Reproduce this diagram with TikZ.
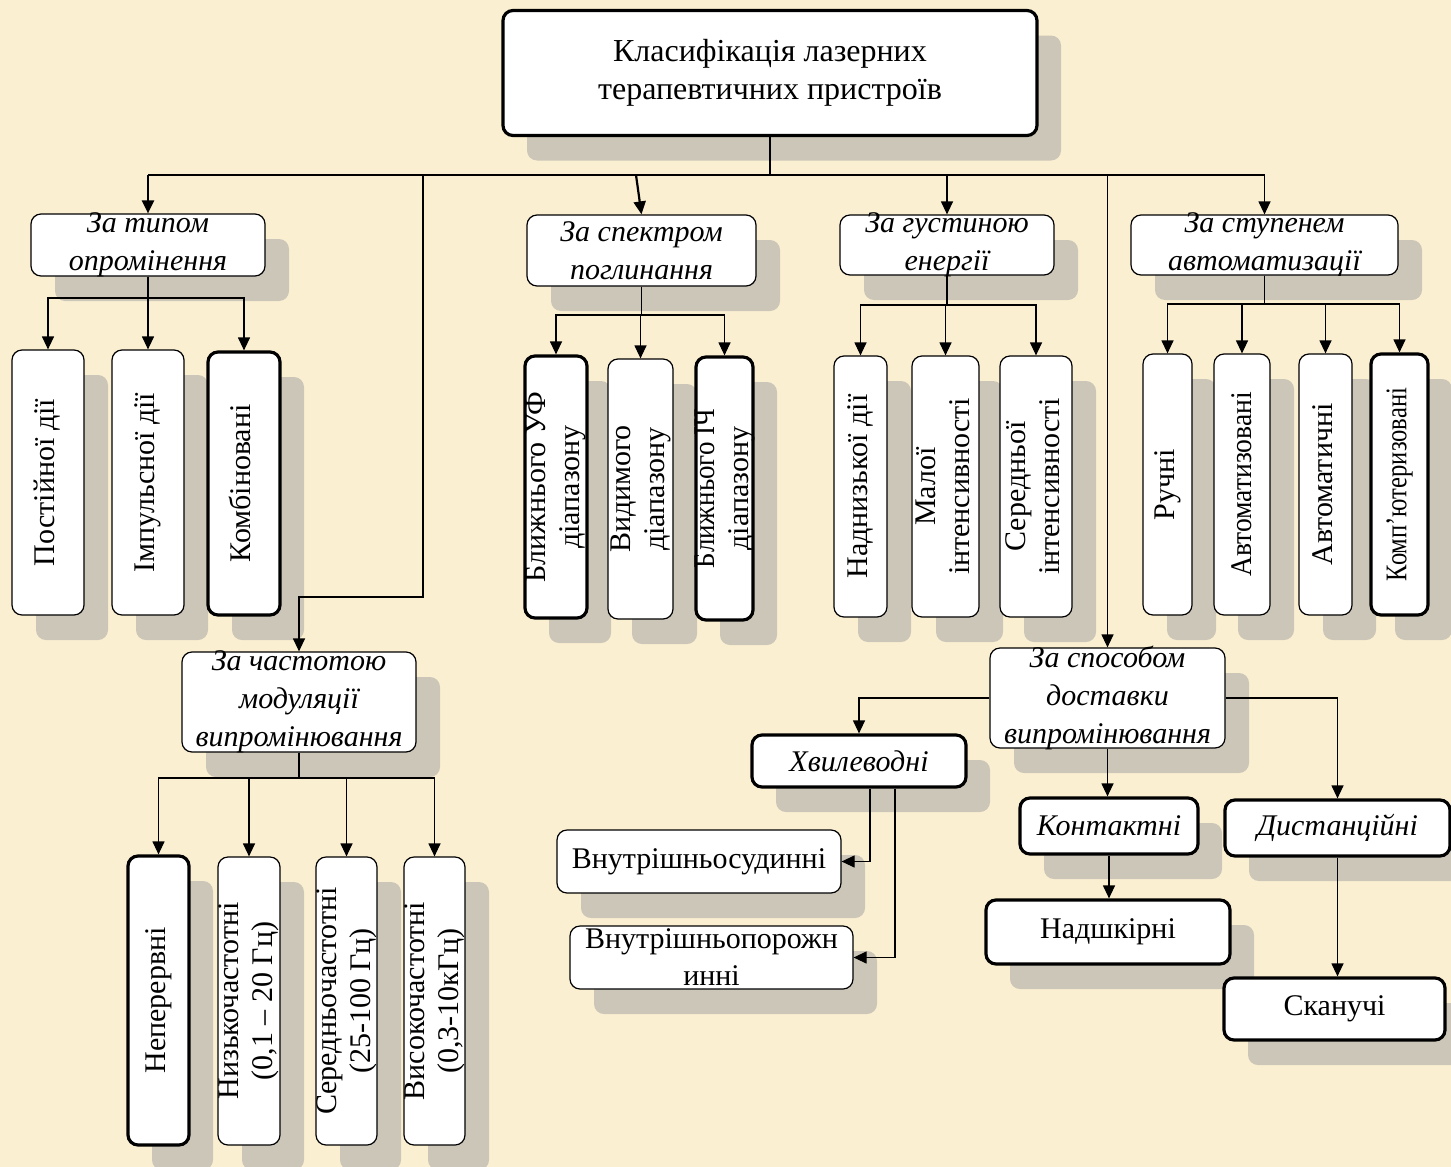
\documentclass[tikz,border=0pt]{standalone}
\usepackage{fontspec}
\setmainfont{Liberation Serif}
\usepackage{graphicx}
\usetikzlibrary{arrows.meta,shadows}
\definecolor{paper}{RGB}{251,239,210}
\definecolor{shade}{RGB}{204,198,184}
\newcommand{\vtext}[1]{\rotatebox{90}{\begin{tabular}{@{}c@{}}#1\end{tabular}}}
\tikzset{rbox/.style={draw,fill=white,rounded corners=5pt,line width=.6pt,inner sep=-4pt,align=center,drop shadow={shadow xshift=12pt,shadow yshift=-12.5pt,fill=shade,opacity=1}},rboldbox/.style={rbox,line width=1.6pt},cattext/.style={font=\fontsize{15}{19}\selectfont\itshape},plaintext/.style={font=\fontsize{15}{18.5}\selectfont},verttext/.style={font=\fontsize{15}{17}\selectfont},wire/.style={line width=.6pt},arr/.style={line width=.6pt,-{Triangle[length=6.5pt,width=6pt]}},boldarr/.style={line width=1.1pt,-{Triangle[length=6.5pt,width=6pt]}},busline/.style={line width=1.3pt}}

\begin{document}
\begin{tikzpicture}[x=.5pt,y=-.5pt]
\path[use as bounding box,fill=paper] (0,0) rectangle (1451,1167);
\node[rboldbox,minimum width=267pt,minimum height=62.5pt,font=\fontsize{16}{19}\selectfont] (root) at (770,73) {Класифікація лазерних\\терапевтичних пристроїв};
\node[rbox,cattext,minimum width=117pt,minimum height=31pt] (typ) at (148,245) {За типом\\опромінення};
\node[rbox,cattext,minimum width=114.5pt,minimum height=35.5pt] (spec) at (641.5,250.5) {За спектром\\поглинання};
\node[rbox,cattext,minimum width=107pt,minimum height=30pt] (ener) at (947,245) {За густиною\\енергії};
\node[rbox,cattext,minimum width=133.5pt,minimum height=30pt] (autom) at (1264.5,245) {За ступенем\\автоматизації};
\node[rbox,verttext,minimum width=36pt,minimum height=132.5pt] (typ1) at (48,482.5) {\vtext{Постійної дії}};
\node[rbox,verttext,minimum width=36pt,minimum height=132.5pt] (typ2) at (148,482.5) {\vtext{Імпульсної дії}};
\node[rboldbox,verttext,minimum width=36pt,minimum height=131.5pt] (typ3) at (244,483.5) {\vtext{Комбіновані}};
\node[rboldbox,verttext,minimum width=31pt,minimum height=131pt] (spec1) at (556,487) {\vtext{Ближнього УФ\\діапазону}};
\node[rbox,verttext,minimum width=32.5pt,minimum height=130pt] (spec2) at (640.5,489) {\vtext{Видимого\\діапазону}};
\node[rboldbox,verttext,minimum width=28.5pt,minimum height=131.5pt] (spec3) at (724.5,488.5) {\vtext{\scalebox{.9}[1]{Ближнього ІЧ}\\діапазону}};
\node[rbox,verttext,minimum width=26.5pt,minimum height=130.5pt] (ener1) at (860.5,486.5) {\vtext{Наднизької дії}};
\node[rbox,verttext,minimum width=33.5pt,minimum height=130.5pt] (ener2) at (945.5,486.5) {\vtext{Малої\\інтенсивності}};
\node[rbox,verttext,minimum width=36pt,minimum height=130.5pt] (ener3) at (1036,486.5) {\vtext{Середньої\\інтенсивності}};
\node[rbox,verttext,minimum width=24.5pt,minimum height=130.5pt] (aut1) at (1167.5,484.5) {\vtext{Ручні}};
\node[rbox,verttext,minimum width=28pt,minimum height=130.5pt] (aut2) at (1242,484.5) {\rotatebox{90}{\scalebox{.92}[1]{Автоматизовані}}};
\node[rbox,verttext,minimum width=26.5pt,minimum height=130.5pt] (aut3) at (1325.5,484.5) {\vtext{Автоматичні}};
\node[rboldbox,verttext,minimum width=28.5pt,minimum height=130.5pt] (aut4) at (1399.5,484.5) {\rotatebox{90}{\scalebox{.82}[1]{Комп’ютеризовані}}};
\node[rbox,cattext,minimum width=117pt,minimum height=50pt] (modul) at (299,702) {За частотою\\модуляції\\випромінювання};
\node[rbox,cattext,minimum width=117.5pt,minimum height=50pt] (deliv) at (1107.5,698) {За способом\\доставки\\випромінювання};
\node[rboldbox,verttext,minimum width=30.5pt,minimum height=144.5pt] (mod1) at (158.5,1000.5) {\vtext{Неперервні}};
\node[rbox,verttext,minimum width=31pt,minimum height=144pt] (mod2) at (249,1001) {\vtext{Низькочастотні\\(0,1 – 20 Гц)}};
\node[rbox,verttext,minimum width=30.5pt,minimum height=144pt] (mod3) at (346.5,1001) {\vtext{Середньочастотні\\(25-100 Гц)}};
\node[rbox,verttext,minimum width=30.5pt,minimum height=144pt] (mod4) at (434.5,1001) {\vtext{Високочастотні\\(0,3-10кГц)}};
\node[rboldbox,cattext,minimum width=107pt,minimum height=26pt] (wave) at (859,761) {Хвилеводні};
\node[rbox,plaintext,minimum width=142pt,minimum height=31.5pt] (vsud) at (699,861.5) {Внутрішньосудинні};
\node[rbox,plaintext,minimum width=141.5pt,minimum height=31.5pt] (vpor) at (711.5,957.5) {Внутрішньопорожн\\инні};
\node[rboldbox,cattext,minimum width=89pt,minimum height=28pt] (cont) at (1109,826) {Контактні};
\node[rboldbox,cattext,minimum width=112.5pt,minimum height=28pt] (dist) at (1337.5,828) {Дистанційні};
\node[rboldbox,plaintext,minimum width=122pt,minimum height=32pt] (nadsh) at (1108,932) {Надшкірні};
\node[rboldbox,plaintext,minimum width=110.5pt,minimum height=31pt] (skan) at (1334.5,1009) {Сканучі};
\coordinate (bus) at (0,175);
\coordinate (specfork) at (636,175);
\coordinate (modbend) at (423,597);
\coordinate (typbar) at (0,298);
\coordinate (specbar) at (0,315);
\coordinate (enerbar) at (0,305);
\coordinate (autbar) at (0,304);
\coordinate (modbar) at (0,778);
\draw[wire] (root.south) -- (root.south |- bus);
\draw[busline] (typ.north |- bus) -- (autom.north |- bus);
\draw[boldarr] (typ.north |- bus) -- (typ.north);
\draw[boldarr] (specfork) -- (spec.north);
\draw[arr] (ener.north |- bus) -- (ener.north);
\draw[arr] (autom.north |- bus) -- (autom.north);
\draw[arr] (deliv.north |- bus) -- (deliv.north);
\draw[arr] (modbend |- bus) -- (modbend) -| (modul.north);
\foreach \c in {typ1,typ2,typ3} \draw[arr] (typ.south) -- (typ.south |- typbar) -| (\c.north);
\foreach \c in {spec1,spec2,spec3} \draw[arr] (spec.south) -- (spec.south |- specbar) -| (\c.north);
\foreach \c in {ener1,ener2,ener3} \draw[arr] (ener.south) -- (ener.south |- enerbar) -| (\c.north);
\foreach \c in {aut1,aut2,aut3,aut4} \draw[arr] (autom.south) -- (autom.south |- autbar) -| (\c.north);
\foreach \c in {mod1,mod2,mod3,mod4} \draw[arr] (modul.south) -- (modul.south |- modbar) -| (\c.north);
\draw[arr] (deliv.west) -| (wave.north);
\draw[arr] (deliv.east) -| (dist.north);
\draw[arr] (deliv.south) -- (deliv.south |- cont.north);
\draw[arr] ([xshift=5.5pt]wave.south) |- (vsud.east);
\draw[arr] ([xshift=18pt]wave.south) |- (vpor.east);
\draw[arr] (cont.south) -- (cont.south |- nadsh.north);
\draw[arr] (dist.south) -- (dist.south |- skan.north);
\end{tikzpicture}
\end{document}
